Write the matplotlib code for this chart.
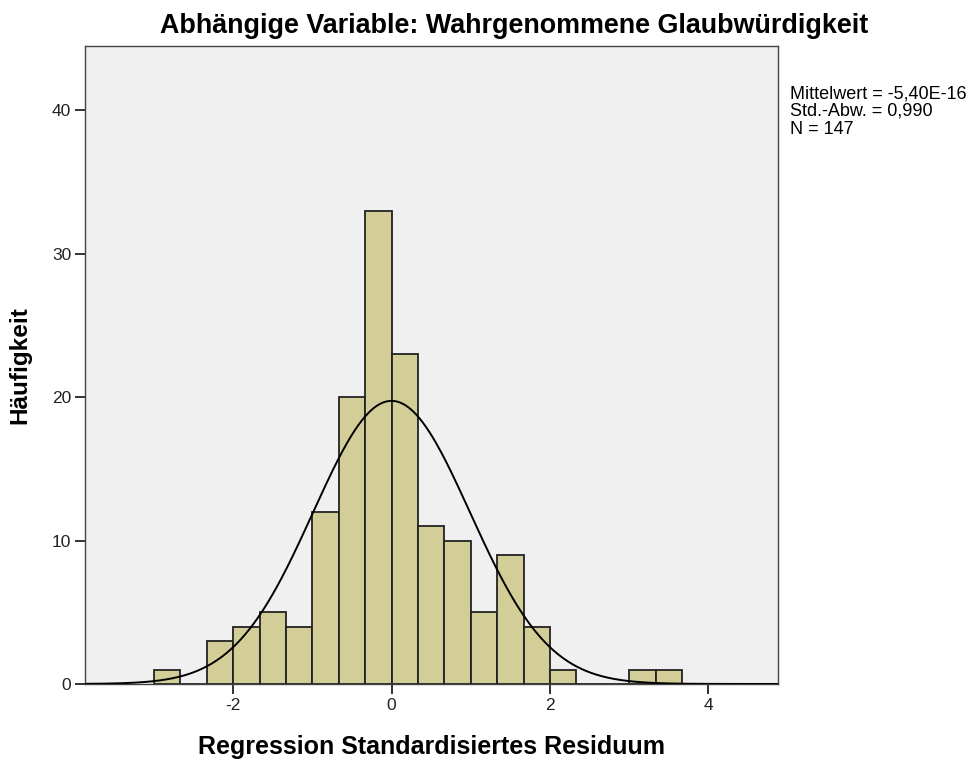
import numpy as np
import matplotlib.pyplot as plt

plt.rcParams['font.family'] = ['Liberation Sans', 'DejaVu Sans']
plt.rcParams['axes.unicode_minus'] = False

# histogram of standardized residuals, bins of width 1/3
bin_edges = np.arange(-9, 12) / 3.0          # -3.0 ... 3.667
counts = [1, 0, 3, 4, 5, 4, 12, 20, 33, 23, 11, 10, 5, 9, 4, 1, 0, 0, 1, 1]
mean = -5.40e-16
std = 0.990
n = 147

fig = plt.figure(figsize=(9.74, 7.62), dpi=100)
ax = fig.add_axes([0.0873, 0.1024, 0.7115, 0.8373])
ax.set_facecolor('#f0f0f0')

widths = np.diff(bin_edges)
ax.bar(bin_edges[:-1], counts, width=widths, align='edge',
       color='#d3ce97', edgecolor='#222222', linewidth=1.3, zorder=2)

# normal curve scaled to counts
width = widths[0]
x = np.linspace(-3.9, 4.9, 600)
pdf = np.exp(-0.5 * ((x - mean) / std) ** 2) / (std * np.sqrt(2 * np.pi))
ax.plot(x, n * width * pdf, color='black', linewidth=1.4, zorder=3)

ax.set_xlim(-3.87, 4.88)
ax.set_ylim(0, 44.5)
ax.set_xticks([-2, 0, 2, 4])
ax.set_yticks([0, 10, 20, 30, 40])
ax.tick_params(direction='out', length=7, width=1.3, pad=3, labelsize=12.5,
               colors='#222222')
for s in ax.spines.values():
    s.set_color('#444444')
    s.set_linewidth(1.0)

fig.text(0.528, 0.966, 'Abhängige Variable: Wahrgenommene Glaubwürdigkeit',
         ha='center', va='center', fontsize=19.4, fontweight='bold')
ax.set_xlabel('Regression Standardisiertes Residuum', fontsize=18,
              fontweight='bold', labelpad=16)
ax.set_ylabel('Häufigkeit', fontsize=17.5, fontweight='bold', labelpad=15)

fig.text(0.811, 0.888, 'Mittelwert = -5,40E-16\nStd.-Abw. = 0,990\nN = 147',
         ha='left', va='top', fontsize=13, linespacing=1.05)

fig.savefig('out.png', dpi=100, facecolor='white')
